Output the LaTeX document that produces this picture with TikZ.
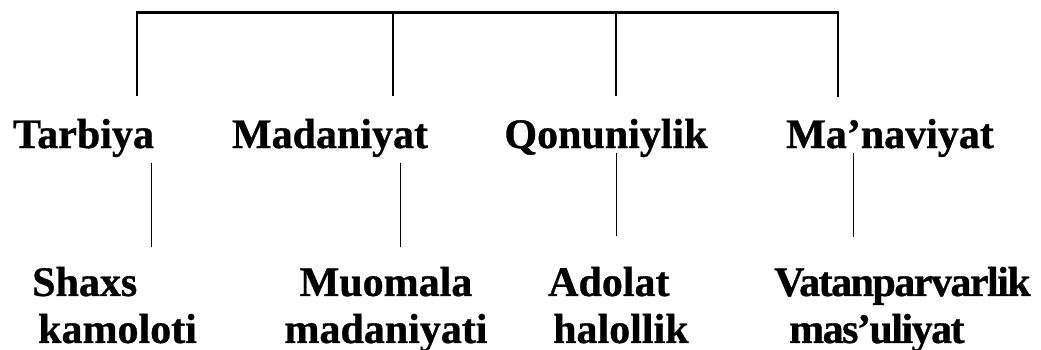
\documentclass[tikz,border=0pt]{standalone}
\usepackage{fontspec}
\setmainfont[BoldFeatures={FakeBold=0.8}]{Liberation Serif}
\tikzset{
    top-word/.style = {font=\fontsize{42}{47}\selectfont\bfseries, inner sep=0pt, anchor=base},
    leaf-word/.style = {font=\fontsize{42}{47}\selectfont\bfseries, inner sep=0pt, align=left, anchor=north west},
    bracket/.style = {line width=2.8pt},
    twig/.style = {line width=0.9pt},
}

\begin{document}
\begin{tikzpicture}[x=1pt,y=-1pt]
\useasboundingbox (0,0) rectangle (1041,349);
\node[top-word] (tarbiya) at (83.5,148) {Tarbiya};
\node[top-word] (madaniyat) at (330,148) {Madaniyat};
\node[top-word] (qonuniylik) at (606,148) {Qonuniylik};
\node[top-word] (manaviyat) at (890,148) {Ma’naviyat};

\node[leaf-word] (shaxs) at (32,266.6) {Shaxs\\\hspace*{6pt}kamoloti};
\node[leaf-word, align=center, anchor=north] (muomala) at (386,266.6) {Muomala\\madaniyati};
\node[leaf-word] (adolat) at (548,266.6) {Adolat\\\hspace*{5pt}halollik};
\node[leaf-word, font=\fontsize{42}{47}\selectfont\bfseries\addfontfeature{LetterSpace=-3.6}] (vatan) at (774,266.6) {Vatanparvarlik\\\hspace*{15pt}mas’uliyat};

% the bracket on top
\coordinate (b1) at (137,12.5);
\coordinate (b2) at (393,12.5);
\coordinate (b3) at (616,12.5);
\coordinate (b4) at (838,12.5);
\draw[bracket, shorten <=22.6pt, shorten >=21.5pt] (b1 |- tarbiya.north) -- (b1) -- (b4) -- (b4 |- manaviyat.north);
\draw[bracket, shorten >=22.6pt] (b2) -- (b2 |- madaniyat.north);
\draw[bracket, shorten >=22.6pt] (b3) -- (b3 |- qonuniylik.north);

% thin lines down to the leaves
\coordinate (t1) at (151,0);
\coordinate (t2) at (400.5,0);
\coordinate (t3) at (616,0);
\coordinate (t4) at (853,0);
\draw[twig, shorten <=5.4pt, shorten >=20pt] (tarbiya.south -| t1) -- (shaxs.north -| t1);
\draw[twig, shorten <=5.4pt, shorten >=20pt] (madaniyat.south -| t2) -- (muomala.north -| t2);
\draw[twig, shorten <=-4.6pt, shorten >=30.6pt] (qonuniylik.south -| t3) -- (adolat.north -| t3);
\draw[twig, shorten <=-4.6pt, shorten >=30pt] (manaviyat.south -| t4) -- (vatan.north -| t4);
\end{tikzpicture}
\end{document}
